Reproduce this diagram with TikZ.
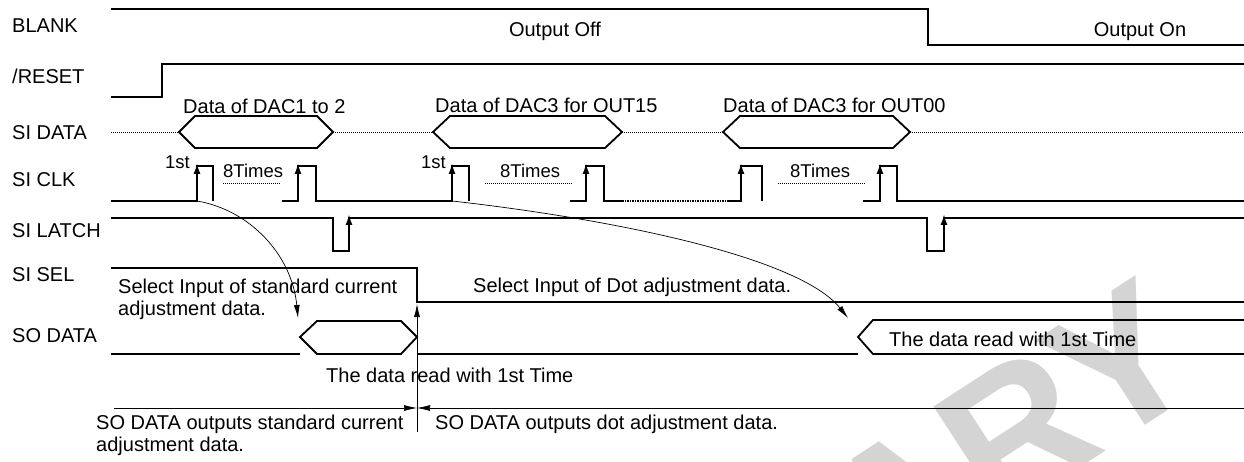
\documentclass[tikz,border=0pt]{standalone}
\usepackage{fontspec}
\setmainfont{Liberation Sans}
\usetikzlibrary{arrows.meta}
\begin{document}
\begin{tikzpicture}[x=1pt,y=-1pt,
  sig/.style={line width=1.8pt, line join=miter},
  fineline/.style={line width=0.7pt},
  dotline/.style={line width=0.9pt, dash pattern=on 1pt off 1pt},
  clkdots/.style={line width=1.5pt, dash pattern=on 1.5pt off 1pt},
  lbl/.style={font=\fontsize{20}{24}\selectfont, inner sep=0pt, anchor=base west},
  txt/.style={font=\fontsize{20}{24}\selectfont, inner sep=0pt},
  smalltxt/.style={font=\fontsize{18.5}{20}\selectfont, inner sep=0pt},
  edgearrow/.style={line width=1.8pt, -{Latex[length=11pt,width=7pt]}},
  finearrow/.style={line width=0.7pt, -{Latex[length=13pt,width=6pt]}},
  wmark/.style={font=\fontsize{190}{190}\selectfont\bfseries, text=black!17, inner sep=0pt},
]
\useasboundingbox (0,0) rectangle (1244,462);
% watermark
\begin{scope}
\clip (0,0) rectangle (1244,462);
\node[wmark, rotate=33, anchor=base east] (wm) at (1210,383) {PRELIMINARY};
\end{scope}

% labels
\node[lbl] (lblank) at (12,33) {BLANK};
\node[lbl] (lreset) at (12,84) {/RESET};
\node[lbl] (lsidata) at (12,140) {SI DATA};
\node[lbl] (lsiclk) at (12,187) {SI CLK};
\node[lbl] (lsilatch) at (12,238) {SI LATCH};
\node[lbl] (lsisel) at (12,281) {SI SEL};
\node[lbl] (lsodata) at (12,342) {SO DATA};

% BLANK
\draw[sig] (111,9) -- (928,9) -- (928,45) -- (1244,45);
\node[txt, anchor=base] (toff) at (555,37) {Output Off};
\node[txt, anchor=base] (ton) at (1140,37) {Output On};

% /RESET
\draw[sig] (111,97) -- (162,97) -- (162,64) -- (1244,64);

% SI DATA
\draw[dotline] (111,132) -- (179,132);
\draw[dotline] (333,132) -- (433,132);
\draw[dotline] (622,132) -- (723,132);
\draw[dotline] (910,132) -- (1244,132);
\draw[sig] (179,132) -- (195,116) -- (317,116) -- (333,132) -- (317,148) -- (195,148) -- cycle;
\draw[sig] (433,132) -- (450,116) -- (605,116) -- (622,132) -- (605,148) -- (450,148) -- cycle;
\draw[sig] (723,132) -- (740,116) -- (893,116) -- (910,132) -- (893,148) -- (740,148) -- cycle;
\node[txt, anchor=base west] (d1) at (183,114) {Data of DAC1 to 2};
\node[txt, anchor=base west] (d2) at (435,113) {Data of DAC3 for OUT15};
\node[txt, anchor=base west] (d3) at (723,113) {Data of DAC3 for OUT00};

% SI CLK
\draw[sig] (111,201) -- (197,201) -- (197,166) -- (213,166) -- (213,201);
\draw[sig] (282,201) -- (298,201) -- (298,166) -- (316,166) -- (316,201) -- (452,201) -- (452,166) -- (469,166) -- (469,201);
\draw[sig] (570,201) -- (586,201) -- (586,166) -- (604,166) -- (604,201) -- (622,201);
\draw[clkdots] (622,201) -- (728,201);
\draw[sig] (728,201) -- (741,201) -- (741,166) -- (762,166) -- (762,201);
\draw[sig] (863,201) -- (880,201) -- (880,166) -- (897,166) -- (897,201) -- (1244,201);
\foreach \x in {197,298,452,586,741,880} \draw[edgearrow] (\x,196) -- (\x,163);
\node[smalltxt, anchor=base east] (f1) at (190,169) {1st};
\node[smalltxt, anchor=base east] (f2) at (446,169) {1st};
\node[smalltxt, anchor=base west] (t1) at (223,178) {8Times};
\node[smalltxt, anchor=base west] (t2) at (500,178) {8Times};
\node[smalltxt, anchor=base west] (t3) at (790,178) {8Times};
\draw[dotline] (223,183) -- (281,183);
\draw[dotline] (485,183) -- (572,183);
\draw[dotline] (778,183) -- (865,183);

% SI LATCH
\draw[sig] (111,218) -- (333,218) -- (333,251) -- (349,251) -- (349,218) -- (927,218) -- (927,251) -- (944,251) -- (944,218) -- (1244,218);
\foreach \x in {349,944} \draw[edgearrow] (\x,245) -- (\x,214);

% SI SEL
\draw[sig] (111,268) -- (417,268) -- (417,302) -- (1244,302);
\node[txt, anchor=base west] (s1) at (118,293) {Select Input of standard current};
\node[txt, anchor=base west] (s2) at (118,315) {adjustment data.};
\node[txt, anchor=base west] (s3) at (473,292) {Select Input of Dot adjustment data.};

% SO DATA
\draw[sig] (111,354) -- (300,354);
\draw[sig] (300,337) -- (317,321) -- (401,321) -- (417,337) -- (401,354) -- (317,354) -- cycle;
\draw[sig] (417,354) -- (858,354);
\draw[sig] (1244,320) -- (873,320) -- (858,337) -- (873,354) -- (1244,354);
\node[txt, anchor=base west] (r1) at (326,382) {The data read with 1st Time};
\node[txt, anchor=base west] (r2) at (889,346) {The data read with 1st Time};

% connectors
\coordinate (c1s) at (197,201);
\coordinate (c1e) at (298,318);
\coordinate (c2s) at (452,201);
\coordinate (c2e) at (848,318);
\draw[finearrow] (c1s) .. controls (250,210) and (292,255) .. (c1e);
\draw[finearrow] (c2s) .. controls (620,220) and (800,258) .. (c2e);
\coordinate (vb) at (417,432);
\coordinate (vt) at (417,304);
\draw[finearrow] (vb) -- (vt);
\coordinate (hl) at (114,408);
\coordinate (hm) at (417,408);
\coordinate (hr) at (1244,408);
\draw[finearrow] (hl) -- (hm);
\draw[finearrow] (hr) -- (hm);

% bottom texts
\node[txt, anchor=base west] (b1) at (96,429) {SO DATA outputs standard current};
\node[txt, anchor=base west] (b2) at (96,451) {adjustment data.};
\node[txt, anchor=base west] (b3) at (435,429) {SO DATA outputs dot adjustment data.};
\end{tikzpicture}
\end{document}
